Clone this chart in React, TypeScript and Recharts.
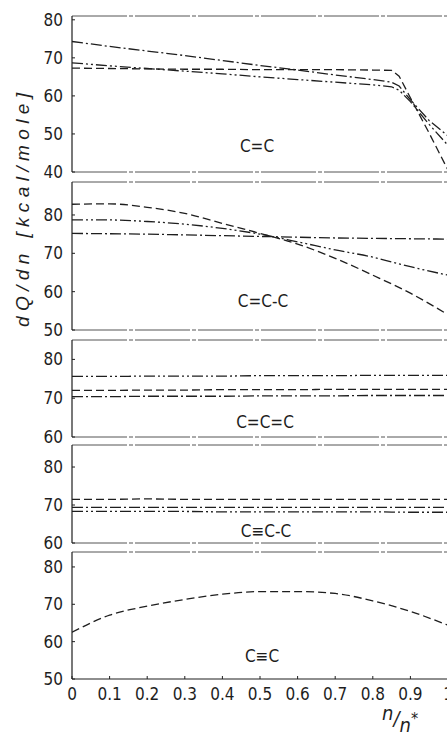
import React from 'react';
import { LineChart, Line, XAxis, YAxis, ReferenceLine } from 'recharts';

// ---------- data ----------
const xTicks = [0, 0.1, 0.2, 0.3, 0.4, 0.5, 0.6, 0.7, 0.8, 0.9, 1];
const xTickLabels = ['0', '0.1', '0.2', '0.3', '0.4', '0.5', '0.6', '0.7', '0.8', '0.9', '1'];

// panel 1: C=C
const ccX = [0, 0.1, 0.2, 0.3, 0.4, 0.5, 0.6, 0.7, 0.8, 0.85, 0.87, 0.9, 0.95, 1.0];
const ccDashed = [67.3, 67.2, 67.1, 67.0, 67.0, 66.9, 66.9, 66.9, 66.8, 66.7, 65.2, 59.5, 50.2, 40.5];
const ccDashDot = [74.3, 73.0, 71.8, 70.6, 69.3, 68.0, 66.8, 65.5, 64.3, 63.6, 62.6, 59.0, 53.5, 49.5];
const ccDashDotDot = [68.7, 67.9, 67.2, 66.5, 65.8, 65.0, 64.3, 63.6, 62.9, 62.4, 61.5, 58.5, 52.5, 47.0];

// panel 2: C=C-C
const gridX = [0, 0.1, 0.2, 0.3, 0.4, 0.5, 0.6, 0.7, 0.8, 0.9, 1.0];
const cccDashed = [82.8, 82.9, 82.0, 80.4, 77.8, 75.2, 72.4, 68.7, 64.3, 59.6, 54.0];
const cccDashDot = [75.2, 75.1, 75.0, 74.8, 74.6, 74.4, 74.2, 74.0, 73.9, 73.8, 73.7];
const cccDashDotDot = [78.7, 78.7, 78.3, 77.6, 76.5, 75.0, 73.0, 70.9, 69.0, 66.5, 64.3];

// panel 3: C=C=C
const cumDashed = [72.0, 72.0, 72.1, 72.1, 72.2, 72.2, 72.2, 72.3, 72.3, 72.3, 72.3];
const cumDashDot = [70.4, 70.4, 70.5, 70.5, 70.5, 70.6, 70.6, 70.6, 70.7, 70.7, 70.7];
const cumDashDotDot = [75.6, 75.6, 75.7, 75.7, 75.7, 75.8, 75.8, 75.8, 75.9, 75.9, 75.9];

// panel 4: C≡C-C
const tccDashed = [71.5, 71.5, 71.6, 71.5, 71.5, 71.5, 71.5, 71.5, 71.5, 71.5, 71.5];
const tccDashDot = [69.4, 69.4, 69.4, 69.4, 69.4, 69.4, 69.4, 69.4, 69.4, 69.4, 69.4];
const tccDashDotDot = [68.3, 68.3, 68.3, 68.3, 68.2, 68.2, 68.2, 68.2, 68.2, 68.1, 68.1];

// panel 5: C≡C
const tcDashed = [62.5, 67.1, 69.5, 71.3, 72.7, 73.4, 73.4, 72.9, 70.9, 68.1, 64.4];

const panelLabels = ['C=C', 'C=C-C', 'C=C=C', 'C≡C-C', 'C≡C'];

// ---------- styles ----------
const FONT = '"Liberation Sans Narrow", "DejaVu Sans Condensed", "Liberation Sans", sans-serif';
const TITLE_FONT = '"Liberation Sans", "DejaVu Sans", sans-serif';
const INK = '#1e1e1e';
const DASH = '8 4';
const DASHDOT = '11 3 2 3';
const DASHDOTDOT = '11 3 2 3 2 3';
const FRAME_DASH = '55 2 4 2';

const W = 470;
const PLOT_LEFT = 72;
const PLOT_RIGHT = 448;
const PAD = 12;

type Ser = { key: string; values: number[]; dash: string };

function build(xs: number[], series: Ser[]) {
  return xs.map((x, i) => {
    const row: any = { x };
    series.forEach((s) => (row[s.key] = s.values[i]));
    return row;
  });
}

const panels = [
  {
    label: panelLabels[0], top: 16, bottom: 172, domain: [40, 81], ticks: [40, 50, 60, 70, 80],
    xs: ccX, labelX: 257, labelY: 146,
    series: [
      { key: 'a', values: ccDashed, dash: DASH },
      { key: 'b', values: ccDashDot, dash: DASHDOT },
      { key: 'c', values: ccDashDotDot, dash: DASHDOTDOT },
    ],
    curve: 'linear',
  },
  {
    label: panelLabels[1], top: 182, bottom: 330, domain: [50, 88.6], ticks: [50, 60, 70, 80],
    xs: gridX, labelX: 263, labelY: 301,
    series: [
      { key: 'a', values: cccDashed, dash: DASH },
      { key: 'b', values: cccDashDot, dash: DASHDOT },
      { key: 'c', values: cccDashDotDot, dash: DASHDOTDOT },
    ],
    curve: 'monotone',
  },
  {
    label: panelLabels[2], top: 340, bottom: 437, domain: [60, 85], ticks: [60, 70, 80],
    xs: gridX, labelX: 265, labelY: 422,
    series: [
      { key: 'a', values: cumDashed, dash: DASH },
      { key: 'b', values: cumDashDot, dash: DASHDOT },
      { key: 'c', values: cumDashDotDot, dash: DASHDOTDOT },
    ],
    curve: 'monotone',
  },
  {
    label: panelLabels[3], top: 445, bottom: 543, domain: [60, 85.8], ticks: [60, 70, 80],
    xs: gridX, labelX: 266, labelY: 531,
    series: [
      { key: 'a', values: tccDashed, dash: DASH },
      { key: 'b', values: tccDashDot, dash: DASHDOT },
      { key: 'c', values: tccDashDotDot, dash: DASHDOTDOT },
    ],
    curve: 'monotone',
  },
  {
    label: panelLabels[4], top: 552, bottom: 679, domain: [50, 84], ticks: [50, 60, 70, 80],
    xs: gridX, labelX: 262, labelY: 656,
    series: [{ key: 'a', values: tcDashed, dash: DASH }],
    curve: 'monotone',
  },
];

const tickStyle = { fill: INK, fontSize: 17, fontFamily: FONT };

function Panel({ p, last }: { p: any; last: boolean }) {
  const data = build(p.xs, p.series);
  const plotH = p.bottom - p.top;
  const xAxisH = 44;
  const height = plotH + PAD + (last ? xAxisH : PAD);
  return (
    <div style={{ position: 'absolute', left: 0, top: p.top - PAD }}>
      <LineChart
        width={W}
        height={height}
        data={data}
        margin={{ top: PAD, bottom: last ? 0 : PAD, left: 12, right: W - PLOT_RIGHT }}
      >
        <XAxis
          type="number"
          dataKey="x"
          domain={[0, 1]}
          ticks={xTicks}
          tickFormatter={(v: number) => xTickLabels[xTicks.indexOf(v)] ?? String(v)}
          hide={!last}
          height={xAxisH}
          allowDataOverflow
          axisLine={{ stroke: INK, strokeWidth: 1.2 }}
          tickLine={{ stroke: INK }}
          tickSize={-3}
          tickMargin={12}
          tick={tickStyle}
          interval={0}
        />
        <YAxis
          type="number"
          domain={p.domain}
          ticks={p.ticks}
          width={PLOT_LEFT - 12}
          allowDataOverflow
          axisLine={{ stroke: INK, strokeWidth: 1.2 }}
          tickLine={{ stroke: INK }}
          tickSize={-3}
          tickMargin={12}
          tick={tickStyle}
          interval={0}
        />
        <ReferenceLine y={p.domain[1]} stroke="#555" strokeWidth={1} strokeDasharray={FRAME_DASH} ifOverflow="visible" />
        {!last && (
          <ReferenceLine y={p.domain[0]} stroke="#555" strokeWidth={1} strokeDasharray={FRAME_DASH} ifOverflow="visible" />
        )}
        <ReferenceLine x={1} stroke="#555" strokeWidth={1} ifOverflow="visible" />
        {p.series.map((s: Ser) => (
          <Line
            key={s.key}
            type={p.curve}
            dataKey={s.key}
            stroke={INK}
            strokeWidth={1.3}
            strokeDasharray={s.dash}
            dot={false}
            activeDot={false}
            isAnimationActive={false}
          />
        ))}
      </LineChart>
    </div>
  );
}

export default function App() {
  return (
    <div style={{ position: 'absolute', left: 0, top: 0, width: 447, height: 732, overflow: 'hidden', background: '#fff' }}>
      {panels.map((p, i) => (
        <Panel key={i} p={p} last={i === panels.length - 1} />
      ))}
      <svg width={447} height={732} style={{ position: 'absolute', left: 0, top: 0, pointerEvents: 'none' }}>
        <text
          x={29}
          y={210}
          transform="rotate(-90 29 210)"
          textAnchor="middle"
          fontStyle="italic"
          fontSize={19}
          fontFamily={TITLE_FONT}
          fill={INK}
          textLength={234}
          lengthAdjust="spacing"
        >
          dQ/dn [kcal/mole]
        </text>
        {panels.map((p, i) => (
          <text
            key={i}
            x={p.labelX}
            y={p.labelY}
            textAnchor="middle"
            dominantBaseline="central"
            fontSize={17}
            fontFamily={FONT}
            fill={INK}
          >
            {p.label}
          </text>
        ))}
        <text x={382} y={720} fontStyle="italic" fontSize={20} fontFamily={FONT} fill={INK}>
          <tspan>n</tspan>
          <tspan dy={5}>/</tspan>
          <tspan dy={7}>n</tspan>
          <tspan dy={-8} fontSize={16} fontStyle="normal">*</tspan>
        </text>
      </svg>
    </div>
  );
}
